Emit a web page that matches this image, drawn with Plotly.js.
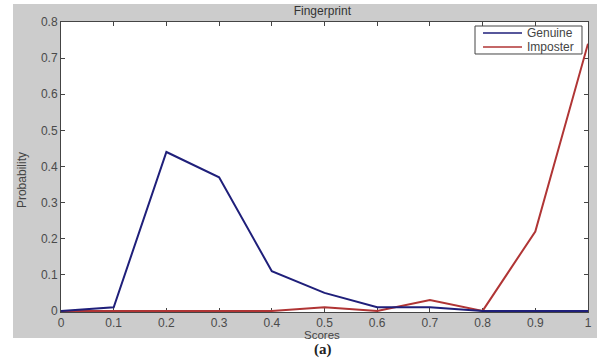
<!DOCTYPE html>
<html>
<head>
<meta charset="utf-8">
<script src="https://cdn.plot.ly/plotly-3.0.1.min.js"></script>
<style>html,body{margin:0;padding:0;background:#fff;}#chart{width:597px;height:358px;}</style>
</head>
<body>
<div id="chart"></div>
<script>
const scores = [0, 0.1, 0.2, 0.3, 0.4, 0.5, 0.6, 0.7, 0.8, 0.9, 1.0];
const genuine = [0, 0.01, 0.44, 0.37, 0.11, 0.05, 0.01, 0.01, 0, 0, 0];
const imposter = [0, 0, 0, 0, 0, 0.01, 0, 0.03, 0, 0.22, 0.74];
const xTicks = [0, 0.1, 0.2, 0.3, 0.4, 0.5, 0.6, 0.7, 0.8, 0.9, 1];
const xTickText = ['0', '0.1', '0.2', '0.3', '0.4', '0.5', '0.6', '0.7', '0.8', '0.9', '1'];
const yTicks = [0, 0.1, 0.2, 0.3, 0.4, 0.5, 0.6, 0.7, 0.8];
const yTickText = ['0', '0.1', '0.2', '0.3', '0.4', '0.5', '0.6', '0.7', '0.8'];
const seriesNames = ['Genuine', 'Imposter'];
const seriesColors = ['#1f1f7a', '#b03535'];

const sans = 'Liberation Sans, Arial, sans-serif';
const tickFont = {family: sans, size: 12, color: '#4a4a4a'};
const traces = [
  {x: scores, y: imposter, name: seriesNames[1], mode: 'lines', line: {color: seriesColors[1], width: 2}},
  {x: scores, y: genuine, name: seriesNames[0], mode: 'lines', line: {color: seriesColors[0], width: 2}}
];
const axisCommon = {
  ticks: 'inside', ticklen: 4, tickcolor: '#444', showgrid: false, zeroline: false,
  showline: true, linecolor: '#444', linewidth: 1, mirror: 'ticks', layer: 'below traces',
  tickfont: tickFont
};
const legendBox = {x0: 0.7856, x1: 0.9886, y0: 0.8897, y1: 0.9862};
const legendRows = [0.9621, 0.9138];
const shapes = [
  {type: 'rect', xref: 'paper', yref: 'paper', x0: -0.0911, x1: 1.02, y0: -0.0897, y1: 1.062,
   fillcolor: '#cccccc', line: {width: 0}, layer: 'below'},
  {type: 'rect', xref: 'paper', yref: 'paper', x0: 0, x1: 1, y0: 0, y1: 1,
   fillcolor: '#ffffff', line: {width: 0}, layer: 'below'},
  {type: 'rect', xref: 'paper', yref: 'paper', x0: legendBox.x0, x1: legendBox.x1, y0: legendBox.y0, y1: legendBox.y1,
   fillcolor: '#ffffff', line: {color: '#444', width: 1}, layer: 'above'}
];
const annotations = [
  {text: '<b>(a)</b>', xref: 'paper', yref: 'paper', x: 0.497, y: -0.13, xanchor: 'center', yanchor: 'middle',
   showarrow: false, font: {family: 'Liberation Serif, Times New Roman, serif', size: 15, color: '#222'}},
  {text: 'Scores', xref: 'paper', yref: 'paper', x: 0.495, y: -0.079, xanchor: 'center', yanchor: 'middle',
   showarrow: false, font: {family: sans, size: 11.5, color: '#444'}},
  {text: 'Probability', xref: 'paper', yref: 'paper', x: -0.074, y: 0.455, xanchor: 'center', yanchor: 'middle',
   textangle: -90, showarrow: false, font: {family: 'Liberation Sans Narrow, Liberation Sans, Arial, sans-serif', size: 12, color: '#444'}}
];
seriesNames.forEach((n, i) => {
  shapes.push({type: 'line', xref: 'paper', yref: 'paper', x0: 0.8008, x1: 0.8748, y0: legendRows[i], y1: legendRows[i],
    line: {color: seriesColors[i], width: 1.5}, layer: 'above'});
  annotations.push({text: n, xref: 'paper', yref: 'paper', x: 0.8805, y: legendRows[i], xanchor: 'left', yanchor: 'middle',
    showarrow: false, font: {family: sans, size: 12, color: '#444'}});
});
const layout = {
  width: 597, height: 358,
  margin: {l: 61, r: 9, t: 22, b: 46},
  paper_bgcolor: '#ffffff',
  plot_bgcolor: '#ffffff',
  showlegend: false,
  title: {text: 'Fingerprint', font: {family: sans, size: 12, color: '#333'}, x: 0.54, xanchor: 'center', y: 0.97, yanchor: 'middle'},
  xaxis: Object.assign({range: [0, 1], tickvals: xTicks, ticktext: xTickText}, axisCommon),
  yaxis: Object.assign({range: [-0.003, 0.8], tickvals: yTicks, ticktext: yTickText}, axisCommon),
  shapes: shapes,
  annotations: annotations
};
Plotly.newPlot('chart', traces, layout, {displayModeBar: false, staticPlot: true});
</script>
</body>
</html>
